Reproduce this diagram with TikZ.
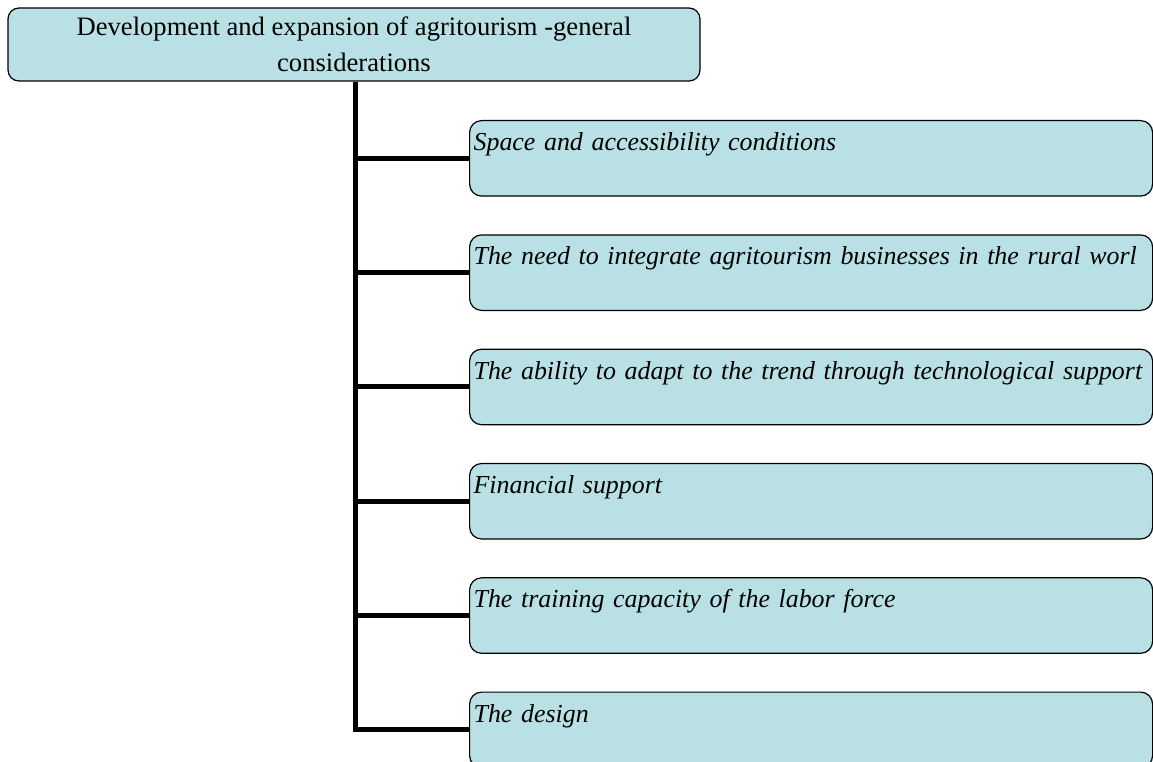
\documentclass[tikz,border=0pt]{standalone}
\usepackage{fontspec}
\setmainfont{Liberation Serif}
\usetikzlibrary{positioning}
\definecolor{boxfill}{RGB}{185,224,228}
\begin{document}
\begin{tikzpicture}[x=1pt, y=1pt, node distance=37.6pt,
		headbox/.style={draw, line width=1.2pt, fill=boxfill, rounded corners=11pt, minimum width=692pt, minimum height=73pt, align=center, font=\fontsize{26.6}{36}\selectfont},
		itembox/.style={draw, line width=1.2pt, fill=boxfill, rounded corners=12pt, anchor=north west, inner xsep=4pt, inner ysep=4pt, text width=675pt, align=left, text height=26pt, text depth=41.5pt, font=\fontsize{25.9}{28}\itshape},
		link/.style={line width=5pt}]
	\useasboundingbox (0,0) rectangle (1153,-762);
		\node[headbox] (general) at (354,-44.5) {Development and expansion of agritourism -general\\considerations};
		\node[itembox] (space) at (469,-120) {Space and accessibility conditions};
		\node[itembox] (integrate) [below=of space] {The need to integrate agritourism businesses in the rural worl};
		\node[itembox] (adapt) [below=of integrate] {The ability to adapt to the trend through technological support};
		\node[itembox] (finance) [below=of adapt] {Financial support};
		\node[itembox] (training) [below=of finance] {The training capacity of the labor force};
		\node[itembox] (design) [below=of training] {The design};

		\draw[link] (general.south) ++(1,0) |- (space.west);
		\draw[link] (general.south) ++(1,0) |- (integrate.west);
		\draw[link] (general.south) ++(1,0) |- (adapt.west);
		\draw[link] (general.south) ++(1,0) |- (finance.west);
		\draw[link] (general.south) ++(1,0) |- (training.west);
		\draw[link] (general.south) ++(1,0) |- (design.west);
	\end{tikzpicture}
\end{document}
